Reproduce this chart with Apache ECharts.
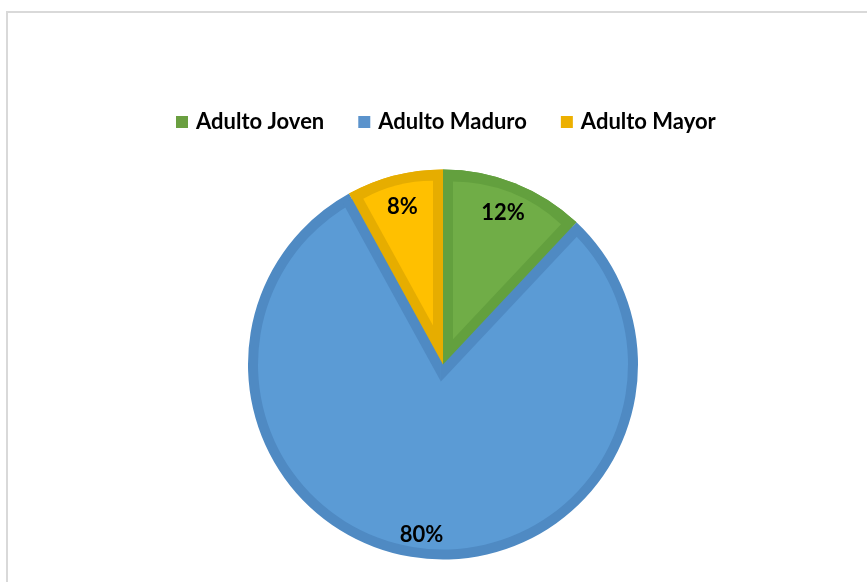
<!DOCTYPE html>
<html>
<head>
<meta charset="utf-8">
<script src="https://cdn.jsdelivr.net/npm/echarts@6/dist/echarts.min.js"></script>
<style>html,body{margin:0;padding:0;background:#fff;}#c{width:867px;height:582px;}</style>
</head>
<body>
<div id="c"></div>
<script>
const categories = ['Adulto Joven', 'Adulto Maduro', 'Adulto Mayor'];
const values = [12, 80, 8];
const labelTexts = ['12%', '80%', '8%'];

const lightColors = ['#70AD47', '#5B9BD5', '#FFC000'];
const darkColors = ['#63A03E', '#4F8AC3', '#E6AD00'];
const legendColors = ['#6A9F40', '#5B93CC', '#EDB000'];

const CX = 443, CY = 364.5, R = 195, B = 10;
const FONT = 'Lato, "Open Sans", sans-serif';

const total = values.reduce((a, b) => a + b, 0);
const spans = values.map(v => v / total * 360);
const starts = [];
let acc = 0;
spans.forEach(s => { starts.push(acc); acc += s; });
const rad = d => d * Math.PI / 180;

function dataWith(colorFn) {
  return categories.map((n, i) => ({
    name: n, value: values[i],
    itemStyle: { color: colorFn(i), borderWidth: 0 }
  }));
}
function pie(center, radius, colorFn, extra) {
  return Object.assign({
    type: 'pie', center: center, radius: radius, startAngle: 90, clockwise: true,
    silent: true, animation: false, label: { show: false }, labelLine: { show: false },
    emphasis: { disabled: true }, itemStyle: { borderWidth: 0 },
    data: dataWith(colorFn)
  }, extra || {});
}

const series = [];
// base: dark colours everywhere
series.push(pie([CX, CY], R, i => darkColors[i]));

const reflex = spans.findIndex(s => s > 180);
if (reflex >= 0) {
  // light fill of the reflex slice
  series.push(pie([CX, CY], R - B, () => lightColors[reflex]));
  // complementary wedge expanded by B, in the reflex slice's dark colour
  const cStart = starts[reflex] + spans[reflex];
  const cSpan = 360 - spans[reflex];
  const cMid = cStart + cSpan / 2;
  const s = B / Math.sin(rad(cSpan / 2));
  const vx = CX - s * Math.sin(rad(cMid));
  const vy = CY + s * Math.cos(rad(cMid));
  series.push(pie([vx, vy], R - B + s + 1, i => i === reflex ? 'transparent' : darkColors[reflex]));
}
// original non-reflex slices in dark colour
series.push(pie([CX, CY], R, i => i === reflex ? 'transparent' : darkColors[i]));
// inset light fills for non-reflex slices
spans.forEach((sp, k) => {
  if (k === reflex) return;
  const half = rad(sp / 2);
  const s = B / Math.sin(half);
  const mid = starts[k] + sp / 2;
  const ox = CX + s * Math.sin(rad(mid));
  const oy = CY - s * Math.cos(rad(mid));
  series.push(pie([ox, oy], R - B - s, i => i === k ? lightColors[k] : 'transparent'));
});
// labels
const labelStyle = { show: true, position: 'inside', fontFamily: FONT, fontWeight: 'bold', fontSize: 22, color: '#000' };
function labelSeries(radius, filter) {
  const p = pie([CX, CY], radius, () => 'transparent');
  p.data.forEach((d, i) => {
    d.label = Object.assign({}, labelStyle, { show: filter(i), formatter: labelTexts[i] });
  });
  p.label = labelStyle;
  return p;
}
series.push(labelSeries([143, 177], i => i !== reflex));
series.push(labelSeries([152, 186], i => i === reflex));

const option = {
  animation: false,
  backgroundColor: '#fff',
  graphic: [{
    type: 'rect', silent: true,
    shape: { x: 7, y: 12, width: 900, height: 620 },
    style: { fill: 'none', stroke: '#D9D9D9', lineWidth: 2 }
  }],
  legend: {
    left: 176, top: 111, padding: 0,
    itemWidth: 12, itemHeight: 12, itemGap: 34, icon: 'rect',
    selectedMode: false,
    textStyle: { fontFamily: FONT, fontWeight: 'bold', fontSize: 22, color: '#000', padding: [0, 0, 0, 3] },
    data: categories.map((n, i) => ({ name: n, itemStyle: { color: legendColors[i] } }))
  },
  series: series
};
const chart = echarts.init(document.getElementById('c'), null, { renderer: 'canvas' });
chart.setOption(option);
</script>
</body>
</html>
